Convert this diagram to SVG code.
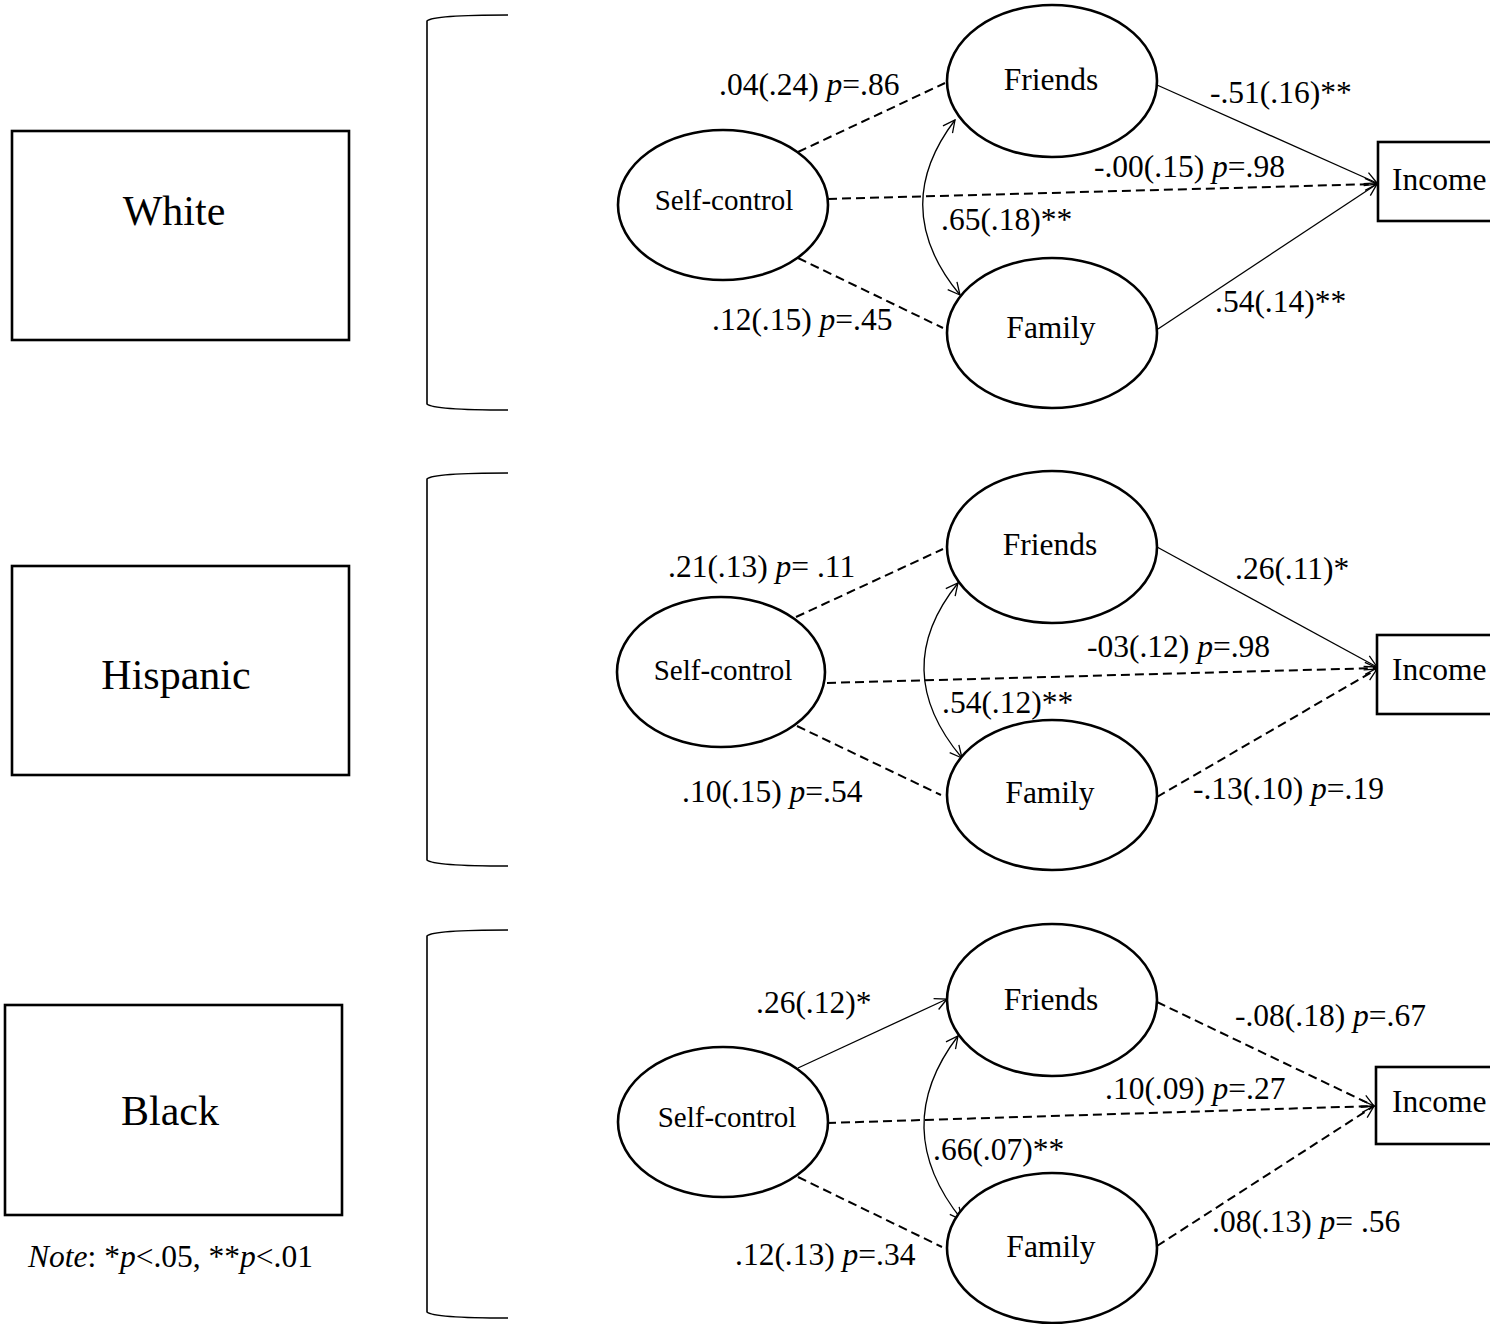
<svg xmlns="http://www.w3.org/2000/svg" width="1490" height="1324" viewBox="0 0 1490 1324">
  <style>
    text { font-family: "Liberation Serif", "Times New Roman", serif; fill: #000; }
    .grp { font-size: 42px; text-anchor: middle; }
    .nd { font-size: 31.5px; text-anchor: middle; }
    .sc { font-size: 29px; text-anchor: middle; }
    .lb { font-size: 31.5px; }
    .it { font-style: italic; }
    .box { fill: #fff; stroke: #000; stroke-width: 2.6; }
    .ell { fill: #fff; stroke: #000; stroke-width: 2.6; }
    .brk { fill: none; stroke: #000; stroke-width: 1.6; }
    .solid { fill: none; stroke: #000; stroke-width: 1.3; }
    .dash { fill: none; stroke: #000; stroke-width: 2; stroke-dasharray: 9 5; }
  </style>
  <defs>
    <marker id="arr" viewBox="0 0 14 14" refX="13" refY="7" markerWidth="14" markerHeight="14" markerUnits="userSpaceOnUse" orient="auto-start-reverse">
      <path d="M1,1 L13,7 L1,13" fill="none" stroke="#000" stroke-width="1.3"/>
    </marker>
  </defs>

  <rect width="1490" height="1324" fill="#fff"/>

  <!-- group labels -->
  <g id="white-group">
    <rect class="box" x="12" y="131" width="337" height="209"/>
    <text class="grp" x="174" y="225">White</text>
  </g>
  <g id="hispanic-group">
    <rect class="box" x="12" y="566" width="337" height="209"/>
    <text class="grp" x="176" y="689">Hispanic</text>
  </g>
  <g id="black-group">
    <rect class="box" x="5" y="1005" width="337" height="210"/>
    <text class="grp" x="170" y="1125">Black</text>
  </g>
  <g id="note">
    <text class="lb" x="28" y="1267"><tspan class="it">Note</tspan>: *<tspan class="it">p</tspan>&lt;.05, **<tspan class="it">p</tspan>&lt;.01</text>
  </g>

  <!-- brackets -->
  <g id="brackets">
    <path class="brk" d="M508,15 C462,15 431,17 427,21 L427,404 C431,408 462,410 508,410"/>
    <path class="brk" d="M508,473 C462,473 431,475 427,479 L427,860 C431,864 462,866 508,866"/>
    <path class="brk" d="M508,930 C462,930 431,932 427,936 L427,1312 C431,1316 462,1318 508,1318"/>
  </g>

  <!-- connectors -->
  <g id="connectors">
    <!-- White -->
    <line class="dash" x1="798" y1="152" x2="945" y2="83"/>
    <line class="dash" x1="798" y1="258" x2="943" y2="328"/>
    <line class="dash" x1="828" y1="199" x2="1377" y2="184" marker-end="url(#arr)"/>
    <line class="solid" x1="1157" y1="85" x2="1377" y2="183" marker-end="url(#arr)"/>
    <line class="solid" x1="1158" y1="329" x2="1377" y2="184" marker-end="url(#arr)"/>
    <path class="solid" d="M955,120 Q888,208 960,295" marker-start="url(#arr)" marker-end="url(#arr)"/>
    <!-- Hispanic -->
    <line class="dash" x1="796" y1="617" x2="943" y2="549"/>
    <line class="dash" x1="797" y1="726" x2="941" y2="795"/>
    <line class="dash" x1="827" y1="683" x2="1377" y2="668" marker-end="url(#arr)"/>
    <line class="solid" x1="1157" y1="547" x2="1377" y2="667" marker-end="url(#arr)"/>
    <line class="dash" x1="1157" y1="797" x2="1377" y2="669" marker-end="url(#arr)"/>
    <path class="solid" d="M958,583 Q888,670 962,758" marker-start="url(#arr)" marker-end="url(#arr)"/>
    <!-- Black -->
    <line class="solid" x1="798" y1="1068" x2="947" y2="999" marker-end="url(#arr)"/>
    <line class="dash" x1="798" y1="1177" x2="942" y2="1247"/>
    <line class="dash" x1="827" y1="1123" x2="1374" y2="1106" marker-end="url(#arr)"/>
    <line class="dash" x1="1157" y1="1002" x2="1374" y2="1106" marker-end="url(#arr)"/>
    <line class="dash" x1="1157" y1="1246" x2="1374" y2="1106" marker-end="url(#arr)"/>
    <path class="solid" d="M958,1036 Q888,1128 962,1220" marker-start="url(#arr)" marker-end="url(#arr)"/>
  </g>

  <!-- White panel nodes -->
  <g id="w-selfcontrol"><ellipse class="ell" cx="723" cy="205" rx="105" ry="75"/><text class="sc" x="724" y="210">Self-control</text></g>
  <g id="w-friends"><ellipse class="ell" cx="1052" cy="81" rx="105" ry="76"/><text class="nd" x="1051" y="90">Friends</text></g>
  <g id="w-family"><ellipse class="ell" cx="1052" cy="333" rx="105" ry="75"/><text class="nd" x="1051" y="338">Family</text></g>
  <g id="w-income"><rect class="box" x="1378" y="142" width="120" height="79"/><text class="lb" x="1392" y="190">Income</text></g>

  <!-- Hispanic panel nodes -->
  <g id="h-selfcontrol"><ellipse class="ell" cx="721" cy="672" rx="104" ry="75"/><text class="sc" x="723" y="680">Self-control</text></g>
  <g id="h-friends"><ellipse class="ell" cx="1052" cy="547" rx="105" ry="76"/><text class="nd" x="1050" y="555">Friends</text></g>
  <g id="h-family"><ellipse class="ell" cx="1052" cy="795" rx="105" ry="75"/><text class="nd" x="1050" y="803">Family</text></g>
  <g id="h-income"><rect class="box" x="1377" y="635" width="120" height="79"/><text class="lb" x="1392" y="680">Income</text></g>

  <!-- Black panel nodes -->
  <g id="b-selfcontrol"><ellipse class="ell" cx="723" cy="1122" rx="105" ry="75"/><text class="sc" x="727" y="1127">Self-control</text></g>
  <g id="b-friends"><ellipse class="ell" cx="1052" cy="1000" rx="105" ry="76"/><text class="nd" x="1051" y="1010">Friends</text></g>
  <g id="b-family"><ellipse class="ell" cx="1052" cy="1248" rx="105" ry="75"/><text class="nd" x="1051" y="1257">Family</text></g>
  <g id="b-income"><rect class="box" x="1376" y="1067" width="122" height="77"/><text class="lb" x="1392" y="1112">Income</text></g>

  <!-- path coefficients -->
  <g id="labels">
    <text class="lb" x="719" y="95">.04(.24) <tspan class="it">p</tspan>=.86</text>
    <text class="lb" x="1210" y="103">-.51(.16)**</text>
    <text class="lb" x="1094" y="177">-.00(.15) <tspan class="it">p</tspan>=.98</text>
    <text class="lb" x="941" y="230">.65(.18)**</text>
    <text class="lb" x="1215" y="312">.54(.14)**</text>
    <text class="lb" x="712" y="330">.12(.15) <tspan class="it">p</tspan>=.45</text>

    <text class="lb" x="668" y="577">.21(.13) <tspan class="it">p</tspan>= .11</text>
    <text class="lb" x="1235" y="579">.26(.11)*</text>
    <text class="lb" x="1087" y="657">-03(.12) <tspan class="it">p</tspan>=.98</text>
    <text class="lb" x="942" y="713">.54(.12)**</text>
    <text class="lb" x="682" y="802">.10(.15) <tspan class="it">p</tspan>=.54</text>
    <text class="lb" x="1193" y="799">-.13(.10) <tspan class="it">p</tspan>=.19</text>

    <text class="lb" x="756" y="1013">.26(.12)*</text>
    <text class="lb" x="1235" y="1026">-.08(.18) <tspan class="it">p</tspan>=.67</text>
    <text class="lb" x="1105" y="1099">.10(.09) <tspan class="it">p</tspan>=.27</text>
    <text class="lb" x="933" y="1160">.66(.07)**</text>
    <text class="lb" x="735" y="1265">.12(.13) <tspan class="it">p</tspan>=.34</text>
    <text class="lb" x="1212" y="1232">.08(.13) <tspan class="it">p</tspan>= .56</text>
  </g>
</svg>
